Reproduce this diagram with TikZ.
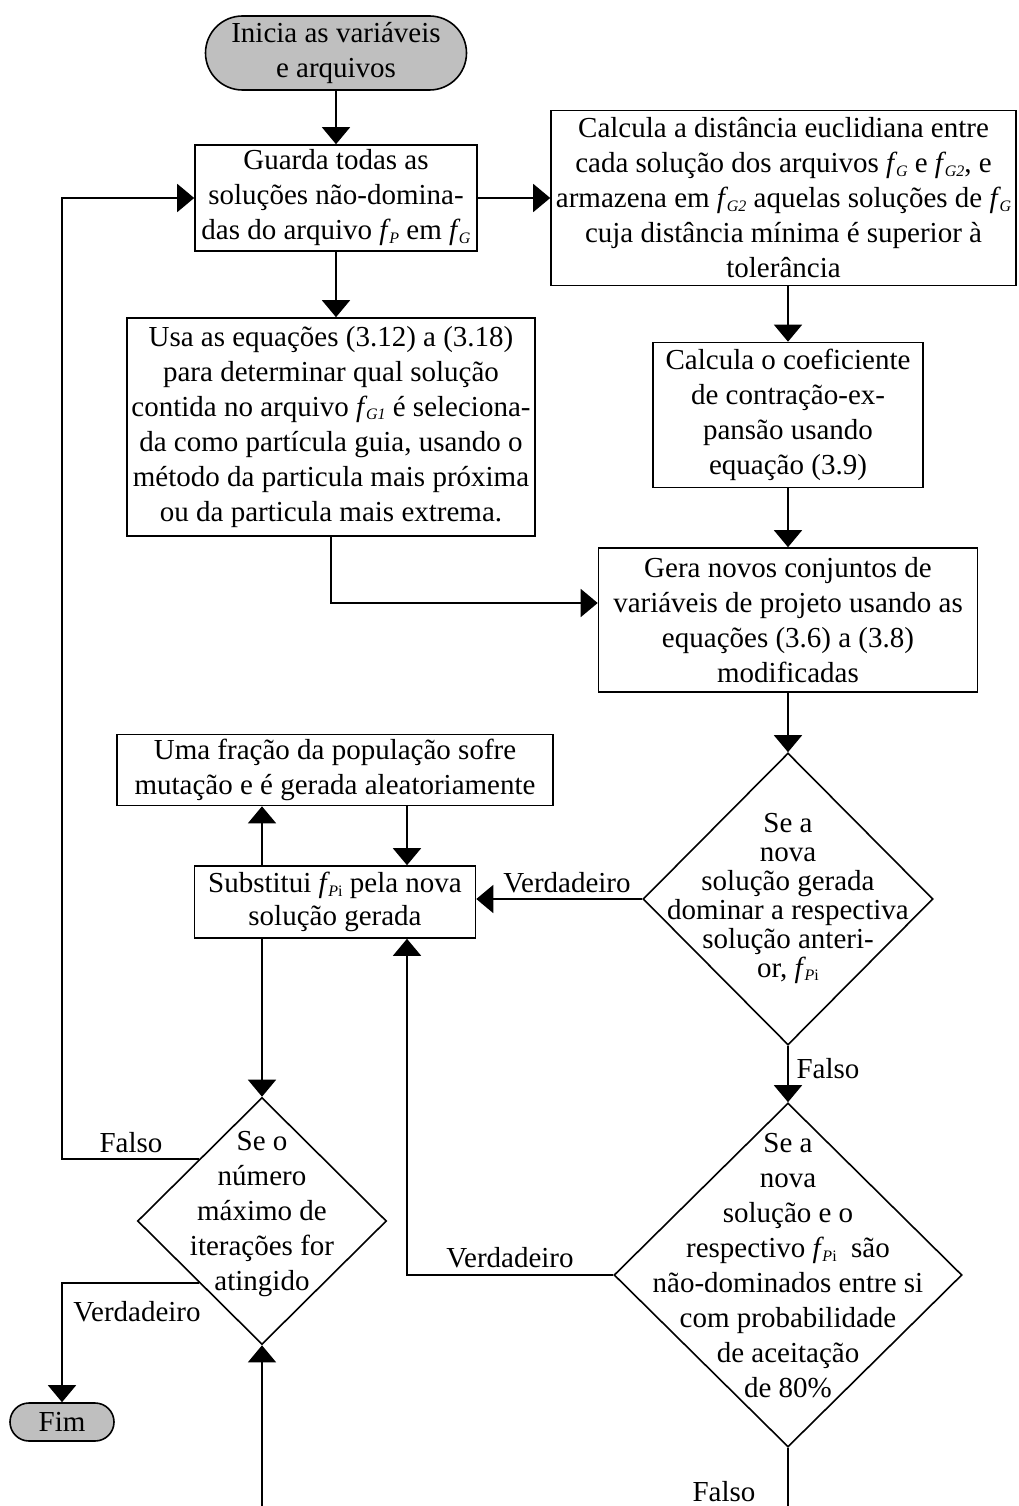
\documentclass[tikz,border=0pt]{standalone}
\usepackage{fontspec}
\setmainfont{Liberation Serif}
\usetikzlibrary{shapes.geometric,shapes.misc,arrows.meta,calc}
\newcommand\fsub[1]{\textit{f}\kern-1.5pt\raisebox{-0.12em}{\fontsize{16}{16}\selectfont\textit{#1}}}
\newcommand\bodyfont{\fontsize{29}{35}\selectfont}
\begin{document}
\begin{tikzpicture}[x=1pt,y=-1pt,
  box/.style={draw, line width=1.6pt, rectangle, inner sep=0pt, align=center, font=\bodyfont},
  term/.style={draw, line width=1.6pt, rounded rectangle, fill=black!25, inner sep=0pt, align=center, font=\bodyfont},
  dia/.style={draw, line width=1.6pt, diamond, inner sep=0pt},
  dtext/.style={align=center, font=\bodyfont, inner sep=0pt},
  lbl/.style={font=\bodyfont, inner sep=0pt},
  arr/.style={line width=1.6pt, -{Triangle[width=28pt,length=17pt]}},
  ln/.style={line width=1.6pt}]
\useasboundingbox (0,0) rectangle (1018,1506);

\node[term, minimum width=261pt, minimum height=74pt] (start) at (336,53) {Inicia as variáveis\\e arquivos};
\node[box, minimum width=282pt, minimum height=106pt] (b1) at (336,198) {Guarda todas as\\soluções não-domina-\\das do arquivo \fsub{P} em \fsub{G}};
\node[box, minimum width=465pt, minimum height=175pt] (b2) at (783.5,198) {Calcula a distância euclidiana entre\\cada solução dos arquivos \fsub{G} e \fsub{G2}, e\\armazena em \fsub{G2} aquelas soluções de \fsub{G}\\cuja distância mínima é superior à\\tolerância};
\node[box, minimum width=408pt, minimum height=218pt] (b3) at (331,427) {Usa as equações (3.12) a (3.18)\\para determinar qual solução\\contida no arquivo \fsub{G1} é seleciona-\\da como partícula guia, usando o\\método da particula mais próxima\\ou da particula mais extrema.};
\node[box, minimum width=270pt, minimum height=145pt] (b4) at (788,415) {Calcula o coeficiente\\de contração-ex-\\pansão usando\\equação (3.9)};
\node[box, minimum width=379pt, minimum height=144pt] (b5) at (788,620) {Gera novos conjuntos de\\variáveis de projeto usando as\\equações (3.6) a (3.8)\\modificadas};

\node[dia, minimum width=290pt, minimum height=292pt] (d1) at (788,899) {};
\node[dtext, font=\fontsize{29}{29}\selectfont] (d1t) at (788,898) {Se a\\nova\\solução gerada\\dominar a respectiva\\solução anteri-\\or, \fsub{P\textup{i}}};

\node[box, minimum width=436pt, minimum height=71pt] (b7) at (335,770) {Uma fração da população sofre\\mutação e é gerada aleatoriamente};
\node[box, minimum width=281pt, minimum height=72pt, font=\fontsize{29}{33}\selectfont] (b6) at (335,902) {Substitui \fsub{P\textup{i}} pela nova\\solução gerada};

\node[dia, minimum width=348pt, minimum height=344pt] (d2) at (788,1275) {};
\node[dtext] (d2t) at (788,1266) {Se a\\nova\\solução e o\\respectivo \fsub{P\textup{i}}\ \ são\\não-dominados entre si\\com probabilidade\\de aceitação\\de 80\%};

\node[dia, minimum width=249pt, minimum height=247pt] (d3) at (262,1221) {};
\node[dtext] (d3t) at (262,1214) {Se o\\número\\máximo de\\iterações for\\atingido};

\node[term, minimum width=104pt, minimum height=38pt] (fim) at (62,1422) {Fim};

\coordinate (v) at (407,1275);
\coordinate (bot2) at (788,1506);
\coordinate (bot3) at (262,1506);
\coordinate (d3ul) at ($(d3.north)!0.5!(d3.west)$);
\coordinate (d3ll) at ($(d3.south)!0.5!(d3.west)$);

% connectors
\draw[arr] (start) -- (start |- b1.north);
\draw[arr] (b1.east) -- (b2.west |- b1.east);
\draw[arr] (b1.south) -- (b1.south |- b3.north);
\draw[arr] (b4.north |- b2.south) -- (b4.north);
\draw[arr] (b4.south) -- (b5.north);
\draw[arr] (b3.south) |- ($(b5.west)+(0,-17)$);
\draw[arr] (b5.south) -- (d1.north);
\draw[arr] (d1.west) -- (d1.west -| b6.east);
\draw[arr] (b6.north -| d3.north) -- (b7.south -| d3.north);
\draw[arr] (b7.south -| v) -- (b6.north -| v);
\draw[arr] (d1.south) -- (d2.north);
\draw[arr] (d2.west) -| (b6.south -| v);
\draw[ln] (d2.south) -- (bot2);
\draw[arr] (b6.south -| d3.north) -- (d3.north);
\draw[arr] (bot3) -- (d3.south);
\draw[arr] (d3ul) -- (d3ul -| fim.north) |- (b1.west);
\draw[arr] (d3ll) -| (fim.north);

% labels
\node[lbl] (l1) at (567,883) {Verdadeiro};
\node[lbl] (l2) at (828,1069) {Falso};
\node[lbl] (l3) at (510,1258) {Verdadeiro};
\node[lbl] (l4) at (724,1492) {Falso};
\node[lbl] (l5) at (131,1143) {Falso};
\node[lbl] (l6) at (137,1312) {Verdadeiro};
\end{tikzpicture}
\end{document}
